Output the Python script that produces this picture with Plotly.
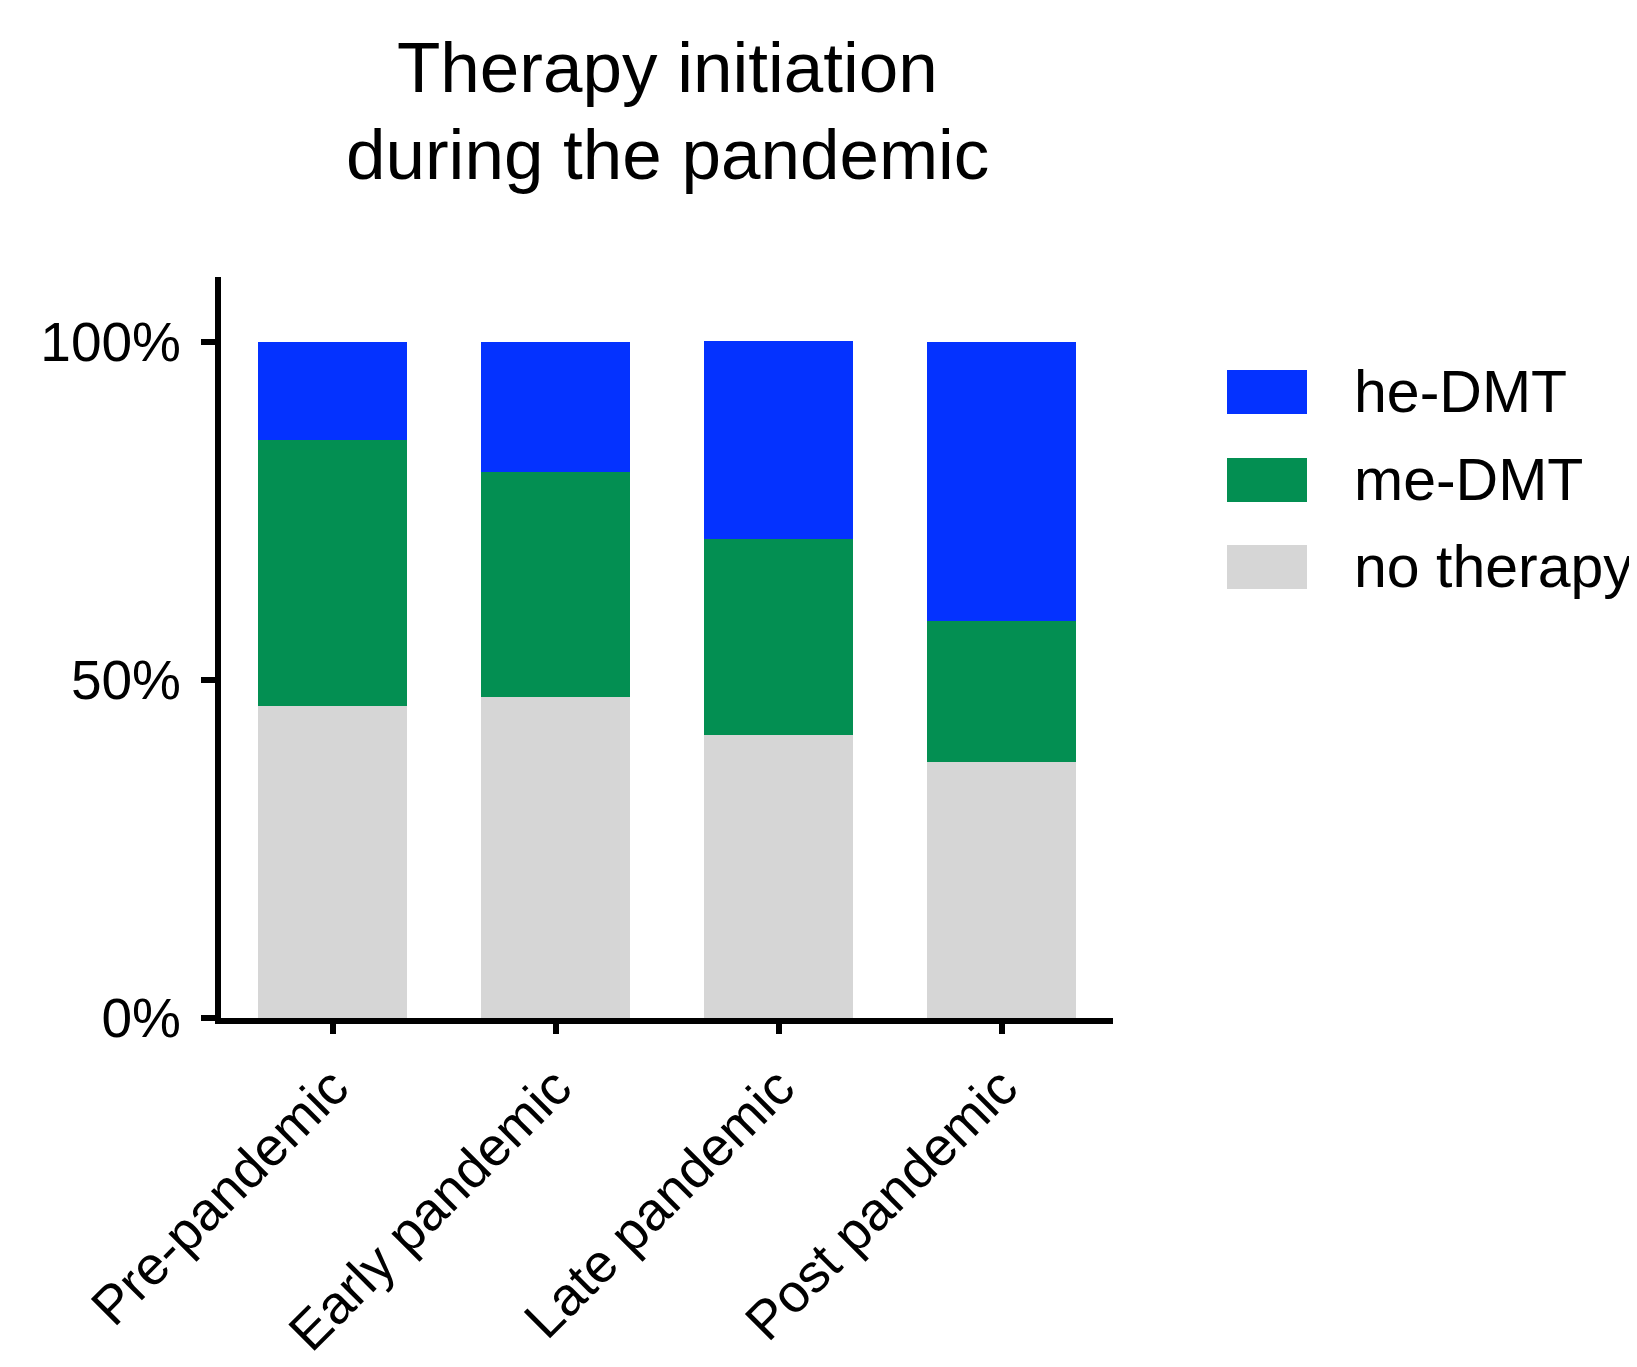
import plotly.graph_objects as go

categories = ["Pre-pandemic", "Early pandemic", "Late pandemic", "Post pandemic"]
no_therapy = [46.2, 47.5, 41.9, 37.9]
me_dmt = [39.3, 33.3, 29.0, 20.8]
he_dmt = [14.5, 19.2, 29.3, 41.3]
series_names = ["he-DMT", "me-DMT", "no therapy"]
colors = {"he-DMT": "#0432FF", "me-DMT": "#038F52", "no therapy": "#D6D6D6"}
y_ticks = [0, 50, 100]
y_tick_text = ["0%", "50%", "100%"]
title_lines = ["Therapy initiation", "during the pandemic"]

W, H = 1637, 1367
L, R, T, B = 213, 1105, 269, 1010
Y_TOP = 100 * (B - T) / (B - 334)
FONT = "Liberation Sans, Arial, sans-serif"

fig = go.Figure()
for name, vals in [("no therapy", no_therapy), ("me-DMT", me_dmt), ("he-DMT", he_dmt)]:
    fig.add_trace(go.Bar(x=categories, y=vals, name=name, marker_color=colors[name],
                         marker_line_width=0, width=0.668, showlegend=False))


def px_x(px):
    return (px - L) / (R - L)


def px_y(py):
    return (B - py) / (B - T)


# manual legend (large swatches)
row_centers = [384, 472, 559]
for name, cy in zip(series_names, row_centers):
    fig.add_shape(type="rect", xref="paper", yref="paper",
                  x0=px_x(1219), x1=px_x(1299), y0=px_y(cy + 22), y1=px_y(cy - 22),
                  fillcolor=colors[name], line_width=0)
    fig.add_annotation(xref="paper", yref="paper", x=px_x(1344), y=px_y(cy),
                       text=name, showarrow=False, xanchor="left", yanchor="middle",
                       font=dict(family=FONT, size=59, color="black"))

# title (two lines)
for line, cy in zip(title_lines, [60, 146]):
    fig.add_annotation(xref="paper", yref="paper", x=px_x(659), y=px_y(cy),
                       text=line, showarrow=False, xanchor="center", yanchor="middle",
                       font=dict(family=FONT, size=71, color="black"))

fig.update_layout(
    width=W, height=H,
    margin=dict(l=L, r=W - R, t=T, b=H - B, pad=0, autoexpand=False),
    paper_bgcolor="white", plot_bgcolor="white",
    barmode="stack", bargap=0,
    font=dict(family=FONT, color="black"),
)
fig.update_xaxes(range=[-0.5, 3.5], showline=True, linecolor="black", linewidth=6,
                 ticks="outside", ticklen=10, tickwidth=6, tickcolor="black",
                 tickangle=-45, ticklabelstandoff=0, automargin=False,
                 tickfont=dict(family=FONT, size=54, color="black"),
                 showgrid=False, zeroline=False)
fig.update_yaxes(range=[0, Y_TOP], showline=True, linecolor="black", linewidth=6,
                 ticks="outside", ticklen=14, tickwidth=6, tickcolor="black",
                 tickvals=y_ticks, ticktext=y_tick_text, ticklabelstandoff=9,
                 automargin=False,
                 tickfont=dict(family=FONT, size=55, color="black"),
                 showgrid=False, zeroline=False)

fig.write_html("out.html")
